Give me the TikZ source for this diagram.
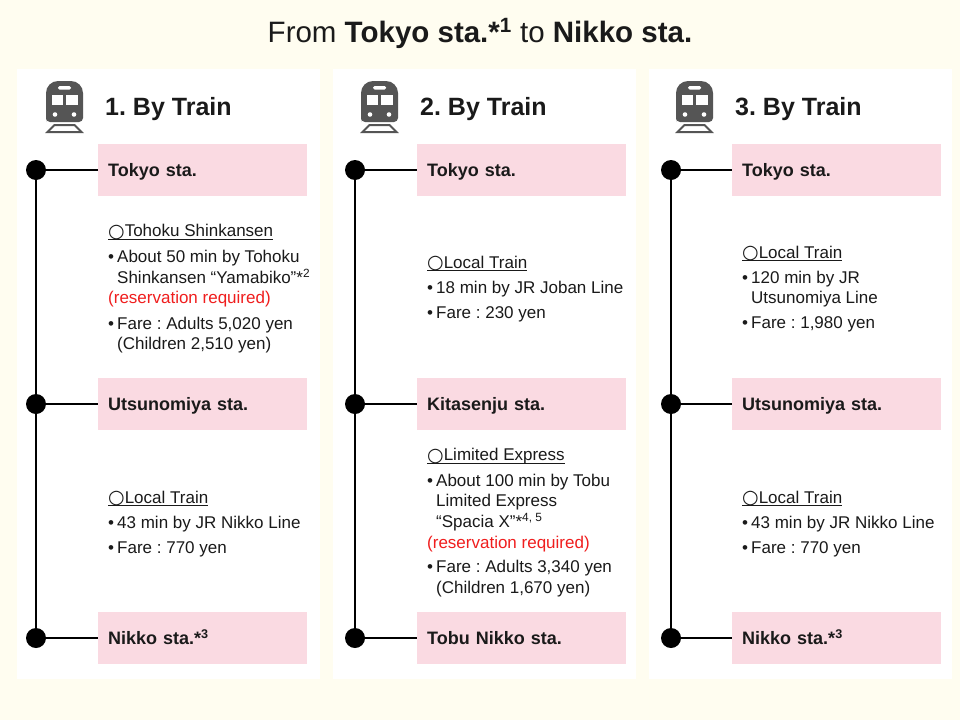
\documentclass[tikz,border=0pt]{standalone}
\usepackage{fontspec}
\setmainfont{Liberation Sans}
\newfontfamily\dejavu{DejaVu Sans}
\definecolor{bgcream}{RGB}{255,253,240}
\definecolor{stnpink}{RGB}{250,218,226}
\definecolor{icongray}{RGB}{85,85,85}
\definecolor{txtdark}{RGB}{26,26,26}
\definecolor{resred}{RGB}{240,30,30}
\newcommand{\circsym}{{\dejavu\fontsize{19}{19}\selectfont\raisebox{-0.5pt}{○}}}
\newcommand{\bul}{\makebox[9pt][l]{•}}
\frenchspacing
\tikzset{
  panelbox/.style={fill=white, draw=none},
  stnbox/.style={fill=stnpink, draw=none, anchor=west, minimum width=209pt, minimum height=52pt,
    inner xsep=10pt, inner ysep=0pt, text width=189pt, align=left, text height=12.9pt, text depth=0pt,
    font=\fontsize{18}{20}\bfseries\selectfont, text=txtdark},
  dotnode/.style={circle, fill=black, minimum size=20pt, inner sep=0pt},
  conn/.style={draw=black, line width=1.2pt},
  bodytxt/.style={anchor=base west, inner sep=0pt, font=\fontsize{17}{20}\selectfont, text=txtdark},
  redtxt/.style={bodytxt, text=resred},
  headtitle/.style={anchor=base west, inner sep=0pt, font=\fontsize{25}{28}\bfseries\selectfont, text=txtdark},
  uline/.style={draw=txtdark, line width=0.9pt}
}
\begin{document}
\begin{tikzpicture}[x=1pt, y=-1pt]
\fill[bgcream] (0,0) rectangle (960,720);
\useasboundingbox (0,0) rectangle (960,720);

% main title
\node[anchor=base, inner sep=0pt, font=\fontsize{29.5}{32}\selectfont, text=txtdark] (title) at (480,42)
  {From \textbf{Tokyo sta.*\textsuperscript{1}} to \textbf{Nikko sta.}};

% panels
\fill[panelbox] (17,69) rectangle (320,679);
\fill[panelbox] (333,69) rectangle (636,679);
\fill[panelbox] (649,69) rectangle (952,679);

% train icons and headings
\foreach \dx/\num in {0/1, 315/2, 630/3} {
  \begin{scope}[shift={(\dx,0)}]
    \fill[icongray] [rounded corners=4pt] (46,110) -- (46,122) -- (83,122) -- (83,110)
      [rounded corners=12pt] -- (83,81) -- (46,81) -- cycle;
    \fill[white, rounded corners=1.5pt] (58,86) rectangle (71,89.5);
    \fill[white] (51.5,95) rectangle (63,104.5);
    \fill[white] (66,95) rectangle (77.5,104.5);
    \fill[white] (55,114.5) circle (2.3);
    \fill[white] (74,114.5) circle (2.3);
    \draw[icongray, line width=2pt, line join=miter] (54.5,125) -- (74.5,125) -- (81.5,132) -- (47.5,132) -- cycle;
    \node[headtitle] (head\num) at (105,115) {\num. By Train};
  \end{scope}
}

% ---------- Panel 1 ----------
\node[stnbox] (s11) at (98,170) {Tokyo sta.};
\node[stnbox] (s12) at (98,404) {Utsunomiya sta.};
\node[stnbox] (s13) at (98,638) {Nikko sta.*\textsuperscript{3}};
\node[dotnode] (d11) at (36,170) {};
\node[dotnode] (d12) at (36,404) {};
\node[dotnode] (d13) at (36,638) {};
\draw[conn] (d11) -- (d12) -- (d13);
\draw[conn] (d11) -- (s11);
\draw[conn] (d12) -- (s12);
\draw[conn] (d13) -- (s13);

\node[bodytxt] (t11) at (108,236.7) {\circsym Tohoku Shinkansen};
\draw[uline] ([yshift=-2.5pt]t11.base west) -- ([yshift=-2.5pt]t11.base east);
\node[bodytxt] (t12) at (108,262.7) {\bul About 50 min by Tohoku};
\node[bodytxt] (t13) at (117,283.3) {Shinkansen “Yamabiko”*\textsuperscript{2}};
\node[redtxt] (t14) at (108,303.3) {(reservation required)};
\node[bodytxt] (t15) at (108,329.3) {\bul Fare : Adults 5,020 yen};
\node[bodytxt] (t16) at (117,349.3) {(Children 2,510 yen)};

\node[bodytxt] (t17) at (108,503) {\circsym Local Train};
\draw[uline] ([yshift=-2.5pt]t17.base west) -- ([yshift=-2.5pt]t17.base east);
\node[bodytxt] (t18) at (108,528.5) {\bul 43 min by JR Nikko Line};
\node[bodytxt] (t19) at (108,553.5) {\bul Fare : 770 yen};

% ---------- Panel 2 ----------
\node[stnbox] (s21) at (417,170) {Tokyo sta.};
\node[stnbox] (s22) at (417,404) {Kitasenju sta.};
\node[stnbox] (s23) at (417,638) {Tobu Nikko sta.};
\node[dotnode] (d21) at (355,170) {};
\node[dotnode] (d22) at (355,404) {};
\node[dotnode] (d23) at (355,638) {};
\draw[conn] (d21) -- (d22) -- (d23);
\draw[conn] (d21) -- (s21);
\draw[conn] (d22) -- (s22);
\draw[conn] (d23) -- (s23);

\node[bodytxt] (t21) at (427,268) {\circsym Local Train};
\draw[uline] ([yshift=-2.5pt]t21.base west) -- ([yshift=-2.5pt]t21.base east);
\node[bodytxt] (t22) at (427,293) {\bul 18 min by JR Joban Line};
\node[bodytxt] (t23) at (427,318) {\bul Fare : 230 yen};

\node[bodytxt] (t24) at (427,460.7) {\circsym Limited Express};
\draw[uline] ([yshift=-2.5pt]t24.base west) -- ([yshift=-2.5pt]t24.base east);
\node[bodytxt] (t25) at (427,486) {\bul About 100 min by Tobu};
\node[bodytxt] (t26) at (436,506.7) {Limited Express};
\node[bodytxt] (t27) at (436,527.3) {“Spacia X”*\textsuperscript{4, 5}};
\node[redtxt] (t28) at (427,548.3) {(reservation required)};
\node[bodytxt] (t29) at (427,572.7) {\bul Fare : Adults 3,340 yen};
\node[bodytxt] (t2a) at (436,593.3) {(Children 1,670 yen)};

% ---------- Panel 3 ----------
\node[stnbox] (s31) at (732,170) {Tokyo sta.};
\node[stnbox] (s32) at (732,404) {Utsunomiya sta.};
\node[stnbox] (s33) at (732,638) {Nikko sta.*\textsuperscript{3}};
\node[dotnode] (d31) at (671,170) {};
\node[dotnode] (d32) at (671,404) {};
\node[dotnode] (d33) at (671,638) {};
\draw[conn] (d31) -- (d32) -- (d33);
\draw[conn] (d31) -- (s31);
\draw[conn] (d32) -- (s32);
\draw[conn] (d33) -- (s33);

\node[bodytxt] (t31) at (742,258.3) {\circsym Local Train};
\draw[uline] ([yshift=-2.5pt]t31.base west) -- ([yshift=-2.5pt]t31.base east);
\node[bodytxt] (t32) at (742,283.3) {\bul 120 min by JR};
\node[bodytxt] (t33) at (751,303.3) {Utsunomiya Line};
\node[bodytxt] (t34) at (742,328.3) {\bul Fare : 1,980 yen};

\node[bodytxt] (t35) at (742,503) {\circsym Local Train};
\draw[uline] ([yshift=-2.5pt]t35.base west) -- ([yshift=-2.5pt]t35.base east);
\node[bodytxt] (t36) at (742,528.5) {\bul 43 min by JR Nikko Line};
\node[bodytxt] (t37) at (742,553.5) {\bul Fare : 770 yen};
\end{tikzpicture}
\end{document}
